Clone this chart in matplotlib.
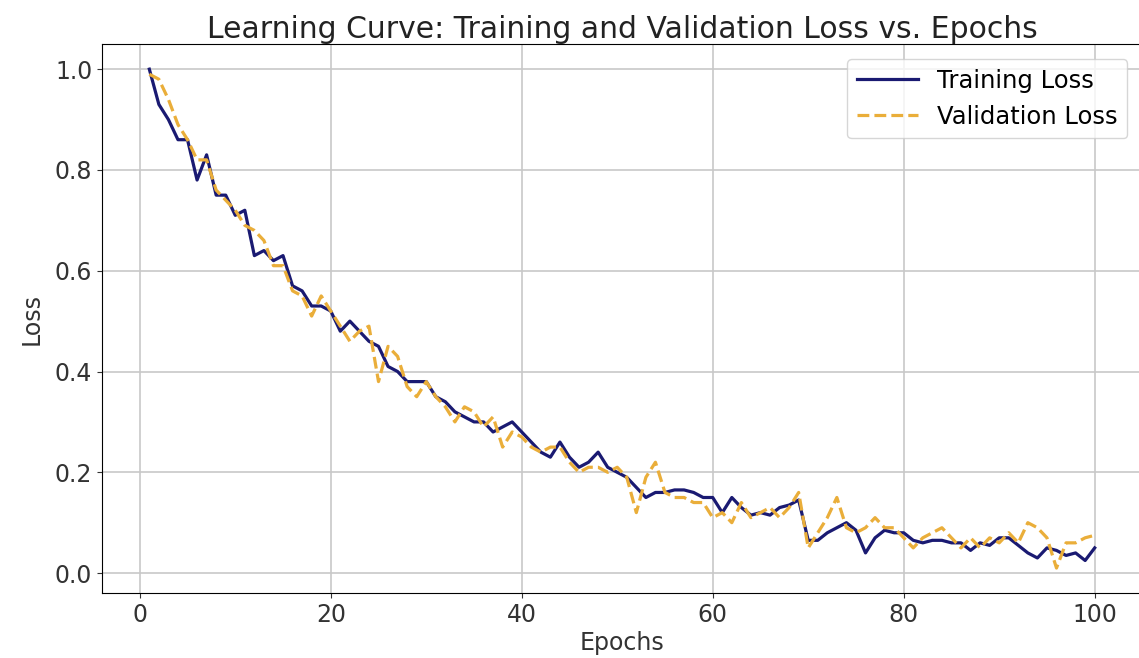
import numpy as np
from matplotlib import pyplot as plt

# loss values per epoch
epochs = np.arange(1, 101)

train_loss = [1.00, 0.93, 0.90, 0.86, 0.86, 0.78, 0.83, 0.75, 0.75, 0.71,
              0.72, 0.63, 0.64, 0.62, 0.63, 0.57, 0.56, 0.53, 0.53, 0.52,
              0.48, 0.50, 0.48, 0.46, 0.45, 0.41, 0.40, 0.38, 0.38, 0.38,
              0.35, 0.34, 0.32, 0.31, 0.30, 0.30, 0.28, 0.29, 0.30, 0.28,
              0.26, 0.24, 0.23, 0.26, 0.23, 0.21, 0.22, 0.24, 0.21, 0.20,
              0.19, 0.17, 0.15, 0.16, 0.16, 0.165, 0.165, 0.16, 0.15, 0.15,
              0.12, 0.15, 0.13, 0.115, 0.12, 0.115, 0.13, 0.135, 0.145, 0.065,
              0.065, 0.08, 0.09, 0.10, 0.085, 0.04, 0.07, 0.085, 0.08, 0.08,
              0.065, 0.06, 0.065, 0.065, 0.06, 0.06, 0.045, 0.06, 0.055, 0.07,
              0.07, 0.055, 0.04, 0.03, 0.05, 0.045, 0.035, 0.04, 0.025, 0.05]

val_loss = [0.99, 0.98, 0.94, 0.89, 0.86, 0.82, 0.82, 0.76, 0.74, 0.72,
            0.69, 0.68, 0.66, 0.61, 0.61, 0.56, 0.55, 0.51, 0.55, 0.52,
            0.49, 0.46, 0.48, 0.49, 0.38, 0.45, 0.43, 0.37, 0.35, 0.38,
            0.35, 0.33, 0.30, 0.33, 0.32, 0.29, 0.31, 0.25, 0.28, 0.27,
            0.25, 0.24, 0.25, 0.25, 0.22, 0.20, 0.21, 0.21, 0.20, 0.21,
            0.19, 0.12, 0.19, 0.22, 0.16, 0.15, 0.15, 0.14, 0.14, 0.11,
            0.12, 0.10, 0.14, 0.11, 0.12, 0.13, 0.11, 0.13, 0.16, 0.05,
            0.08, 0.11, 0.15, 0.09, 0.08, 0.09, 0.11, 0.09, 0.09, 0.07,
            0.05, 0.07, 0.08, 0.09, 0.07, 0.05, 0.07, 0.05, 0.07, 0.06,
            0.08, 0.06, 0.10, 0.09, 0.07, 0.01, 0.06, 0.06, 0.07, 0.075]

fig = plt.figure(figsize=(11.39, 6.58), dpi=100)
ax = fig.add_axes([0.0896, 0.0988, 0.913, 0.834])

ax.plot(epochs, train_loss, color='#1a1a72', linewidth=2.3, label='Training Loss')
ax.plot(epochs, val_loss, color='#eaae3a', linewidth=2.3, linestyle='--', label='Validation Loss')

ax.set_title('Learning Curve: Training and Validation Loss vs. Epochs',
             fontsize=21.5, color='#222222', pad=4)
ax.set_xlabel('Epochs', fontsize=17, color='#333333', labelpad=3)
ax.set_ylabel('Loss', fontsize=17, color='#333333', labelpad=8)
ax.tick_params(labelsize=17, colors='#333333')
ax.set_xticks([0, 20, 40, 60, 80, 100])
ax.grid(True, color='#c8c8c8', linewidth=1.2)
ax.legend(fontsize=17.5, loc='upper right', handlelength=2.5, borderaxespad=0.6)

fig.savefig('out.png', dpi=100)
